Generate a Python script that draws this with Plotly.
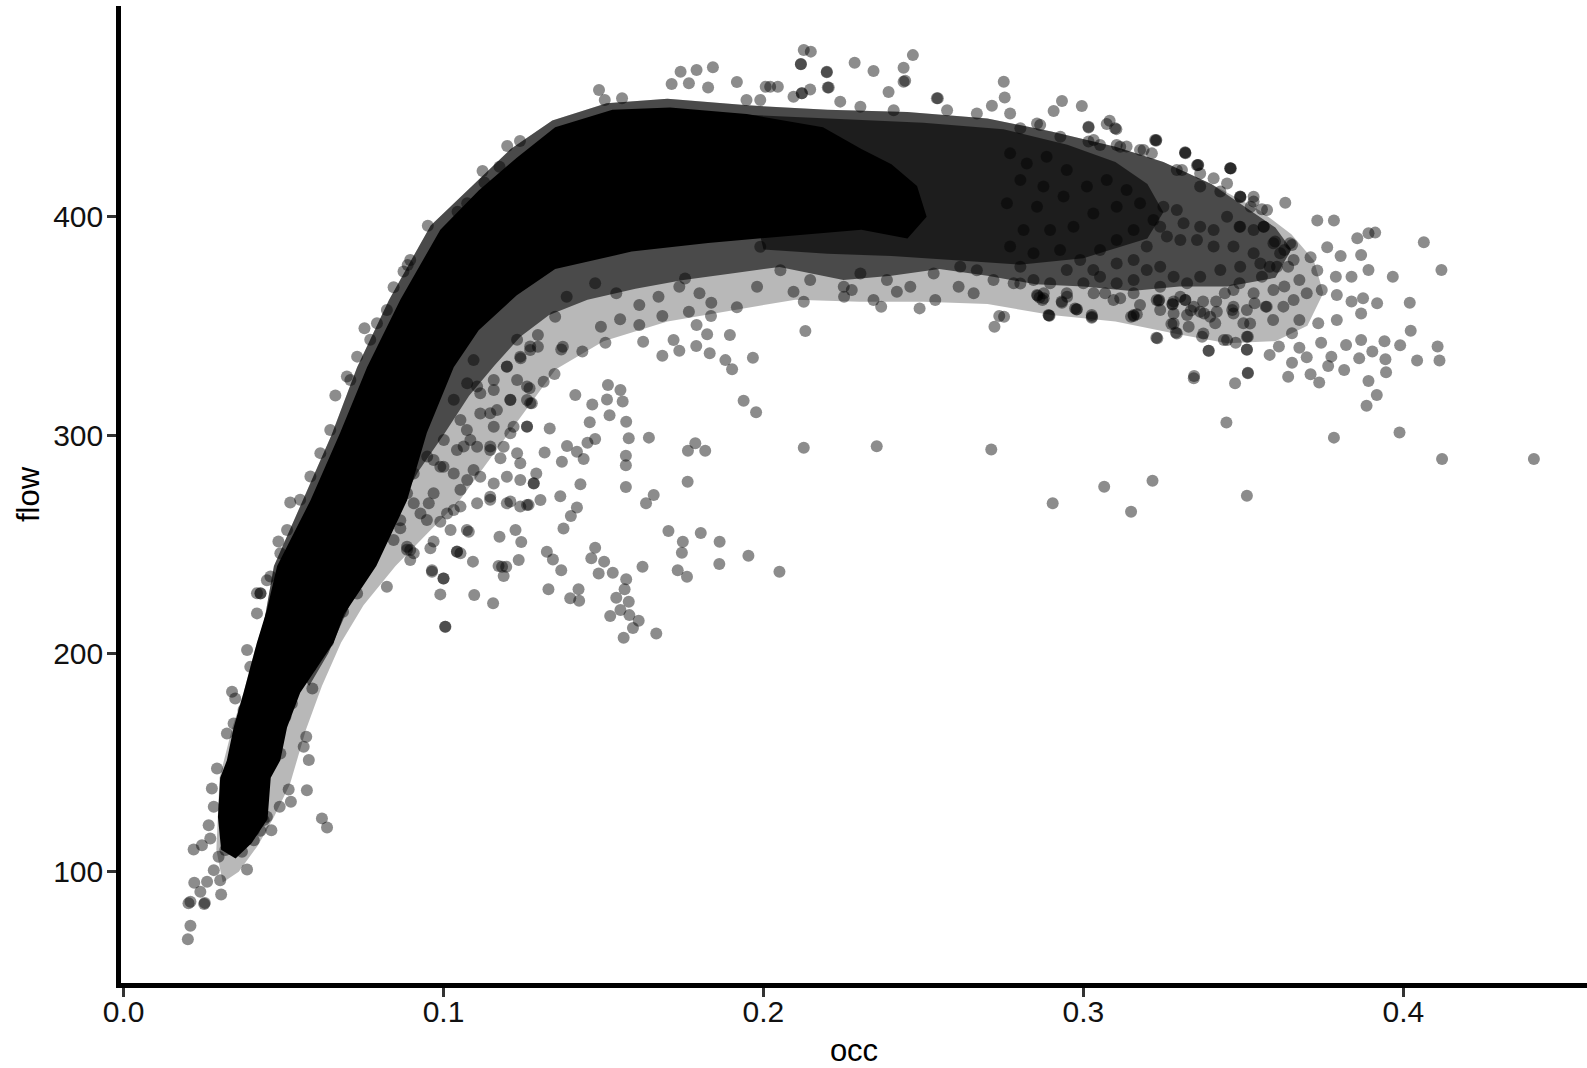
import plotly.graph_objects as go

# ---------------- data ----------------
# Dense, fully-saturated core of the cloud (outline of the solid black region)
core_occ = [0.0305, 0.0295, 0.0302, 0.0323, 0.0344, 0.0375, 0.0417, 0.0448, 0.0480, 0.0584,
            0.0677, 0.0761, 0.0865, 0.0990, 0.1110, 0.1229, 0.1349, 0.1528, 0.1708, 0.1947,
            0.2186, 0.2306, 0.2400, 0.2480, 0.2510,
            0.2450, 0.2306, 0.2066, 0.1827, 0.1588, 0.1349, 0.1229, 0.1110, 0.1032, 0.0948,
            0.0886, 0.0790, 0.0690, 0.0657, 0.0552, 0.0511, 0.0490, 0.0460, 0.0450, 0.0400, 0.0350]
core_flow = [110, 125, 143, 151, 166, 182, 205, 220, 240, 270,
             301, 331, 362, 394, 412, 427, 441, 449, 450, 447,
             441, 431, 424, 414, 400,
             390, 394, 391, 388, 384, 376, 364, 348, 331, 301,
             270, 240, 218, 205, 182, 166, 151, 143, 124, 113, 106]

# Lighter fringe below / right of the dense band (sporadic overlap of points)
env_occ = [0.044, 0.047, 0.056, 0.065, 0.073, 0.083, 0.096, 0.109, 0.121, 0.134,
           0.151, 0.170, 0.195, 0.220, 0.245, 0.270, 0.290, 0.310, 0.325, 0.340,
           0.355, 0.365, 0.372, 0.375,
           0.370, 0.360, 0.345, 0.330, 0.310, 0.290, 0.270, 0.250, 0.230, 0.210,
           0.190, 0.170, 0.150, 0.135, 0.125, 0.115, 0.105, 0.095, 0.085, 0.075,
           0.068, 0.062, 0.057, 0.052, 0.047, 0.042, 0.036, 0.031, 0.029, 0.030,
           0.034, 0.0375, 0.0417]
env_flow = [215, 240, 270, 300, 331, 362, 396, 414, 431, 444,
            452, 454, 451, 449, 448, 445, 439, 432, 425, 415,
            403, 392, 380, 365,
            350, 343, 342, 346, 352, 355, 360, 361, 361, 362,
            357, 352, 343, 330, 310, 290, 270, 255, 240, 222,
            205, 185, 165, 140, 125, 112, 100, 95, 110, 143,
            166, 182, 205]

# Heavily overplotted (dark, textured) band around the core
halo_occ = [0.044, 0.047, 0.056, 0.065, 0.073, 0.083, 0.096, 0.109, 0.121, 0.134,
            0.151, 0.170, 0.195, 0.220, 0.245, 0.270, 0.290, 0.310, 0.325, 0.340,
            0.350, 0.360, 0.365,
            0.360, 0.345, 0.330, 0.315, 0.300, 0.285, 0.270, 0.255, 0.240, 0.225,
            0.205, 0.190, 0.175, 0.160, 0.145, 0.133, 0.124, 0.116, 0.108, 0.100,
            0.092, 0.084, 0.077, 0.070, 0.064, 0.058]
halo_flow = [215, 240, 270, 300, 331, 362, 396, 414, 431, 444,
             452, 454, 451, 449, 448, 445, 439, 432, 425, 415,
             405, 395, 385,
             372, 368, 368, 366, 368, 369, 373, 376, 373, 371,
             377, 374, 371, 367, 362, 355, 345, 332, 318, 300,
             283, 262, 242, 220, 200, 185]

# Very dense plateau just right of the solid core
plateau_occ = [0.190, 0.220, 0.250, 0.275, 0.295, 0.310, 0.320, 0.325, 0.320, 0.300,
               0.280, 0.260, 0.240, 0.220, 0.200]
plateau_flow = [447, 445, 443, 440, 433, 425, 415, 402, 390, 381,
                378, 380, 382, 383, 385]

# Individual points: low-occupancy branch
occ_low = [0.1006, 0.0990, 0.0823, 0.0896, 0.1000, 0.0964, 0.0639, 0.0686, 0.0660, 0.0730,
           0.0590, 0.0579, 0.0571, 0.0563, 0.0573, 0.0516, 0.0523, 0.0488, 0.0620, 0.0636,
           0.0462, 0.0428, 0.0407, 0.0370, 0.0386, 0.0276, 0.0282, 0.0266, 0.0219, 0.0245,
           0.0271, 0.0339, 0.0349, 0.0292, 0.0282, 0.0297, 0.0261, 0.0221, 0.0240, 0.0209,
           0.0254, 0.0305, 0.0209, 0.0201, 0.0302, 0.0318, 0.0334, 0.0354, 0.0375, 0.0407,
           0.0438, 0.0448, 0.0412, 0.0365, 0.0407, 0.0344, 0.0323, 0.0375, 0.0396, 0.0386,
           0.0417, 0.0428, 0.0448, 0.0490, 0.0552, 0.0584, 0.0526, 0.0506, 0.0490,
           0.0951, 0.0844, 0.0888, 0.0753, 0.0771, 0.0662, 0.0709, 0.0521, 0.0484, 0.0428,
           0.0896, 0.0875, 0.0823, 0.0792, 0.0730, 0.0698, 0.0646, 0.0615, 0.0584, 0.0552,
           0.0511, 0.0490, 0.0459, 0.0417, 0.0203, 0.0252]
flow_low = [212.2, 227.0, 230.5, 242.7, 234.3, 237.4, 205.3, 219.0, 214.5, 227.4,
            183.9, 151.1, 161.8, 157.2, 137.3, 137.6, 132.0, 129.7, 124.4, 120.2,
            119.0, 118.7, 114.4, 109.1, 101.0, 138.1, 129.7, 121.3, 110.2, 112.1,
            115.2, 182.4, 179.3, 147.3, 100.7, 106.8, 95.4, 94.9, 90.8, 86.2,
            85.7, 89.5, 75.2, 69.0, 96.1, 109.9, 113.7, 116.0, 123.6, 119.0,
            123.6, 125.1, 130.5, 151.1, 160.2, 167.9, 163.3, 174.0, 193.8, 201.5,
            218.3, 227.4, 233.5, 206.1, 196.9, 193.8, 177.0, 170.9, 154.1,
            395.8, 367.7, 377.9, 348.9, 343.6, 318.1, 325.2, 269.1, 251.2, 227.5,
            380.2, 374.9, 357.3, 351.2, 335.9, 326.8, 302.3, 291.7, 281.0, 270.3,
            256.5, 245.8, 235.2, 227.5, 85.5, 85.2]

# Individual points: scatter below the bend (occ 0.08-0.22)
occ_mid = [0.1412, 0.1465, 0.1457, 0.1514, 0.1553, 0.1511, 0.1560, 0.1519, 0.1571, 0.1579,
           0.1642, 0.1474, 0.1450, 0.1386, 0.1417, 0.1438, 0.1370, 0.1570, 0.1570, 0.1428,
           0.1570, 0.1657, 0.1633, 0.1417, 0.1398, 0.1375, 0.1763, 0.1764, 0.1787, 0.1818,
           0.1938, 0.1977, 0.1967, 0.1902, 0.1881, 0.1832, 0.1790, 0.1737, 0.1684, 0.2126,
           0.1703, 0.1748, 0.1745, 0.1804, 0.1863, 0.1862, 0.1953, 0.2050, 0.1761, 0.1732,
           0.1622, 0.1571, 0.1566, 0.1540, 0.1579, 0.1553, 0.1521, 0.1581, 0.1610, 0.1592,
           0.1563, 0.1665, 0.1474, 0.1462, 0.1502, 0.1485, 0.1529, 0.1422, 0.1396, 0.1424,
           0.1368, 0.1328, 0.1323, 0.1342, 0.1235, 0.1243, 0.1225, 0.1175, 0.1196, 0.1172,
           0.1188, 0.1092, 0.1053, 0.1155, 0.1096, 0.1000, 0.0964, 0.1005, 0.1365, 0.1290,
           0.1276, 0.1269, 0.1313, 0.1347, 0.1332, 0.1316, 0.1434, 0.1506, 0.1368,
           0.0907, 0.0896, 0.0959, 0.1042, 0.1079, 0.1022, 0.0990, 0.0928, 0.0954, 0.1011,
           0.1053, 0.1105, 0.1146, 0.1198, 0.1240, 0.1261, 0.1303, 0.1282, 0.1240, 0.1198,
           0.1157, 0.1115, 0.1074, 0.1032, 0.0990, 0.1042, 0.1105, 0.1146, 0.1188, 0.1230,
           0.1261, 0.1219, 0.1157, 0.1084, 0.1115, 0.1167, 0.1209, 0.1261, 0.1230, 0.1198,
           0.1240, 0.1271, 0.1157, 0.1115, 0.1074, 0.1094, 0.1053, 0.1001, 0.0949, 0.0907,
           0.0886, 0.0865, 0.0844, 0.0886,
           0.1183, 0.1042, 0.1073, 0.0969, 0.0886, 0.0865, 0.1146, 0.1209, 0.1266, 0.1282,
           0.1240, 0.1178, 0.1094, 0.1053, 0.0969, 0.1000, 0.1063, 0.1146, 0.1209, 0.1261,
           0.1271, 0.1261, 0.1209, 0.1146, 0.1073, 0.1032, 0.1105, 0.1157, 0.1198, 0.1271,
           0.1230, 0.0948, 0.1032, 0.0907, 0.0969, 0.2354, 0.2712]
flow_mid = [318.3, 314.0, 305.8, 322.9, 320.6, 316.3, 315.3, 309.1, 306.1, 298.5,
            298.8, 298.2, 296.5, 295.0, 292.3, 289.0, 287.8, 290.5, 286.2, 277.4,
            276.2, 272.5, 268.7, 266.8, 262.9, 257.2, 278.6, 292.8, 296.2, 292.8,
            315.7, 310.4, 335.4, 330.1, 334.3, 337.4, 340.8, 338.6, 336.3, 294.2,
            256.0, 251.1, 246.1, 255.1, 251.1, 240.9, 244.7, 237.4, 235.1, 238.1,
            239.7, 233.9, 229.4, 225.5, 223.6, 219.8, 217.1, 217.5, 214.9, 211.6,
            207.1, 209.1, 248.4, 243.5, 242.0, 236.6, 236.9, 229.3, 225.2, 224.1,
            238.1, 229.4, 246.5, 243.0, 242.7, 251.0, 256.5, 253.4, 239.7, 240.0,
            235.4, 242.0, 245.8, 222.9, 226.7, 234.3, 238.1, 212.2, 272.0, 282.4,
            314.5, 321.4, 324.4, 327.9, 303.0, 292.0, 338.2, 342.3, 339.2,
            245.8, 247.3, 248.1, 246.5, 255.7, 256.5, 260.3, 264.1, 268.7, 264.1,
            267.2, 268.7, 271.7, 268.7, 267.2, 267.9, 270.2, 277.8, 279.4, 280.9,
            277.8, 280.9, 279.4, 282.4, 285.5, 293.1, 294.6, 293.1, 294.6, 291.6,
            303.8, 303.8, 303.8, 297.7, 309.9, 311.4, 316.0, 316.0, 325.2, 331.3,
            335.9, 338.9, 320.6, 319.1, 323.7, 334.3, 306.9, 297.7, 290.1, 282.4,
            273.3, 261.0, 251.9, 248.8,
            239.7, 246.6, 256.5, 251.2, 247.4, 257.3, 270.3, 269.5, 268.0, 277.9,
            287.1, 289.4, 284.0, 274.9, 273.3, 285.5, 294.7, 294.7, 300.8, 303.9,
            314.6, 322.2, 316.1, 310.0, 302.3, 316.1, 322.2, 325.2, 331.4, 340.5,
            343.6, 261.1, 265.7, 268.7, 288.6, 294.8, 293.4]

# Individual points: upper fringe of the cloud
occ_top = [0.1199, 0.1239, 0.1122, 0.1128, 0.1175, 0.1044, 0.1074, 0.1486, 0.1504, 0.1558,
           0.1741, 0.1791, 0.1842, 0.1713, 0.1767, 0.1827, 0.1917, 0.2007, 0.2045, 0.2117,
           0.2198, 0.2201, 0.2443, 0.2391, 0.2545, 0.1947, 0.2120,
           0.2126, 0.2148, 0.2117, 0.2198, 0.2285, 0.2344, 0.2438, 0.2467, 0.2438, 0.2204,
           0.2146, 0.2120, 0.2021, 0.2751, 0.2754, 0.2714, 0.2933, 0.2995, 0.2907, 0.3082,
           0.3103, 0.3016, 0.3228, 0.3318, 0.3461, 0.3490, 0.3355,
           0.1990, 0.2094, 0.2240, 0.2303, 0.2407, 0.2542, 0.2574, 0.2667, 0.2771, 0.2855,
           0.2928, 0.3032, 0.3115, 0.3188, 0.3292, 0.3365, 0.3449, 0.3532]
flow_top = [432.4, 434.7, 420.9, 415.6, 422.9, 402.3, 406.1, 458.0, 453.4, 454.2,
            466.4, 467.2, 468.4, 460.8, 461.1, 459.2, 461.7, 459.5, 459.5, 469.9,
            466.4, 459.2, 462.3, 457.1, 454.2, 453.4, 456.5,
            476.3, 475.6, 469.8, 466.1, 470.5, 466.7, 468.2, 474.0, 461.8, 459.2,
            458.3, 456.5, 459.5, 461.8, 454.6, 450.8, 453.0, 450.7, 448.4, 443.9,
            440.1, 440.9, 435.1, 429.3, 422.1, 409.1, 423.6,
            453.4, 454.9, 452.7, 450.4, 448.8, 454.2, 448.8, 447.3, 447.3, 442.7,
            436.6, 435.1, 432.0, 430.5, 421.4, 419.8, 415.2, 409.1]

# Individual points: lower fringe of the plateau (occ 0.12-0.36)
occ_band = [0.2252, 0.2276, 0.1980, 0.1917, 0.1837, 0.1836, 0.1800, 0.1767, 0.1895, 0.1791,
            0.1824, 0.1719, 0.1624, 0.1684, 0.1612, 0.1552, 0.1492, 0.1612, 0.1672, 0.1737,
            0.1755, 0.1540, 0.1474, 0.1385, 0.1349, 0.1295, 0.1373, 0.1295, 0.1241,
            0.2126, 0.2131, 0.2094, 0.2344, 0.2368, 0.2488, 0.2417, 0.2537, 0.2610, 0.2657,
            0.2737, 0.2722, 0.2894, 0.3027, 0.2978, 0.2863, 0.3157, 0.3228, 0.3235, 0.3279,
            0.3346, 0.3514, 0.3391, 0.3511, 0.3292, 0.3329, 0.3282, 0.3375, 0.3449, 0.3511,
            0.1990, 0.2053, 0.2146, 0.2251, 0.2303, 0.2386, 0.2459, 0.2532, 0.2615, 0.2667,
            0.2719, 0.2803, 0.2876, 0.2949, 0.3032, 0.3094, 0.3157, 0.3240, 0.3303, 0.3345,
            0.3396, 0.3469, 0.3521]
flow_band = [363.3, 366.4, 367.9, 358.5, 360.6, 354.5, 364.9, 356.5, 345.8, 350.4,
             346.1, 343.5, 342.7, 354.5, 350.4, 353.0, 349.6, 359.5, 363.3, 367.9,
             371.7, 364.9, 369.5, 363.3, 354.2, 345.8, 340.4, 340.4, 335.1,
             361.0, 347.6, 365.6, 361.8, 358.7, 358.0, 365.6, 361.8, 367.9, 364.9,
             354.5, 349.6, 354.6, 354.2, 357.5, 363.0, 354.5, 344.5, 361.5, 359.8,
             327.0, 328.5, 338.6, 339.2, 346.5, 349.6, 351.1, 346.5, 343.5, 345.0,
             386.2, 375.5, 371.0, 367.9, 374.0, 371.0, 367.9, 374.0, 377.1, 375.5,
             371.0, 369.4, 364.9, 363.3, 364.9, 361.8, 364.9, 367.9, 363.3, 358.7,
             354.2, 355.7, 351.1]

# Individual points: high-occupancy end of the cloud
occ_high = [0.3631, 0.3731, 0.3783, 0.3856, 0.3891, 0.3912, 0.4064, 0.4119, 0.3967, 0.3710,
            0.3762, 0.3804, 0.3868, 0.3891, 0.3838, 0.3789, 0.3731, 0.4020, 0.3918, 0.4023,
            0.4107, 0.4113, 0.4043, 0.3990, 0.3941, 0.3944, 0.3946, 0.3891, 0.3917, 0.3885,
            0.3815, 0.3765, 0.3743, 0.3821, 0.3868, 0.3903, 0.3862, 0.3737, 0.3710, 0.3775,
            0.3640, 0.3652, 0.3698, 0.3675, 0.3582, 0.3611, 0.3514, 0.3474, 0.3345, 0.3392,
            0.3439, 0.3476, 0.3511, 0.3514, 0.3447, 0.3783, 0.3988, 0.4121, 0.4408, 0.3065,
            0.3216, 0.2904, 0.3149, 0.3511, 0.3231, 0.3289, 0.3275, 0.3026, 0.2892, 0.3149,
            0.3167, 0.2752, 0.2933, 0.2980, 0.2857, 0.2872, 0.3237, 0.3278, 0.3336, 0.3319,
            0.3377, 0.3412, 0.3371, 0.3459, 0.3319, 0.3358, 0.3227, 0.3491, 0.3523, 0.3558,
            0.3564, 0.3488, 0.3652, 0.3628, 0.3599, 0.3582, 0.3640, 0.3675, 0.3628, 0.3698,
            0.3745, 0.3792, 0.3838, 0.3868, 0.3874, 0.3792, 0.3734, 0.3675, 0.3652, 0.3593,
            0.3570, 0.3535, 0.3500, 0.3465, 0.3442, 0.3488, 0.3558]
flow_high = [406.4, 398.2, 398.2, 390.1, 392.4, 392.7, 388.3, 375.6, 372.5, 381.4,
             386.0, 382.0, 382.5, 375.6, 372.5, 372.5, 375.3, 360.6, 360.3, 347.8,
             340.5, 334.1, 334.1, 341.1, 342.9, 334.7, 328.7, 324.7, 318.3, 313.4,
             329.8, 331.6, 342.3, 341.2, 343.5, 338.2, 335.1, 324.1, 327.8, 335.9,
             326.7, 333.1, 335.6, 340.0, 336.7, 340.5, 328.3, 323.7, 326.0, 338.6,
             343.5, 342.3, 339.0, 345.0, 305.7, 298.8, 301.1, 289.0, 289.0, 276.3,
             279.1, 268.7, 264.9, 272.2, 344.3, 346.9, 350.8, 353.7, 354.7, 354.2,
             355.3, 354.2, 360.6, 357.6, 363.8, 361.8, 361.8, 360.0, 357.0, 361.8,
             355.7, 351.2, 345.0, 422.2, 429.0, 423.7, 434.8, 408.9, 404.6, 403.4,
             395.4, 395.4, 387.0, 384.7, 388.6, 377.1, 377.1, 371.0, 368.0, 364.9,
             366.4, 364.1, 361.1, 355.7, 362.6, 352.7, 351.2, 352.7, 346.6, 352.7,
             358.8, 360.3, 351.2, 357.3, 364.9, 369.5, 372.5]

# Individual points: textured region occ 0.28-0.37
occ_tex = [0.2803, 0.2865, 0.3016, 0.3073, 0.3099, 0.3016, 0.3052, 0.3104, 0.3135, 0.3224,
           0.3177, 0.3214, 0.3318, 0.3359, 0.3459, 0.3308, 0.3407, 0.3365, 0.3428, 0.3490,
           0.3532, 0.3574, 0.3563, 0.3532, 0.3490, 0.3449, 0.3407, 0.3365, 0.3313, 0.3292,
           0.3250, 0.3219, 0.3261, 0.3303, 0.3355, 0.3407, 0.3469, 0.3532, 0.3594, 0.3646,
           0.3615, 0.3657, 0.3605, 0.3553, 0.3490, 0.3428, 0.3365, 0.3324, 0.3282, 0.3240,
           0.3198, 0.3157, 0.3104, 0.3052, 0.3000, 0.2948, 0.2896, 0.2844, 0.2782, 0.2855,
           0.2876, 0.2932, 0.2974, 0.3026, 0.3068, 0.3115, 0.3177, 0.3229, 0.3282, 0.3318,
           0.3374, 0.3415, 0.3469, 0.3532, 0.3594, 0.3625, 0.3657, 0.3573, 0.3511, 0.3469,
           0.3417, 0.3365, 0.3324, 0.3282, 0.3240, 0.3157, 0.2891,
           0.2771, 0.2823, 0.2885, 0.2948, 0.2875, 0.2803, 0.2761, 0.2855, 0.2938, 0.3011,
           0.3073, 0.3135, 0.3177, 0.3104, 0.3031, 0.2969, 0.2896, 0.2813, 0.2771, 0.2844,
           0.2927, 0.2990, 0.3052, 0.3104, 0.3157, 0.3198, 0.3240, 0.3157, 0.3104, 0.3031,
           0.2948, 0.2803]
flow_tex = [440.5, 442.0, 441.2, 442.5, 440.5, 434.4, 432.8, 432.8, 432.1, 435.1,
            430.6, 429.0, 429.5, 423.7, 422.2, 421.4, 417.6, 413.8, 411.5, 409.2,
            406.9, 403.1, 395.4, 393.9, 395.4, 400.0, 393.9, 395.4, 397.0, 403.1,
            404.6, 398.5, 390.9, 389.3, 389.3, 386.3, 386.3, 383.2, 387.8, 387.8,
            383.2, 380.2, 377.1, 378.6, 377.1, 375.6, 372.5, 369.5, 372.5, 377.1,
            375.6, 371.0, 369.5, 372.5, 369.5, 364.9, 369.5, 371.0, 369.5, 364.1,
            362.6, 361.1, 358.0, 355.0, 364.9, 362.6, 359.6, 361.8, 361.1, 361.8,
            361.1, 361.1, 366.4, 364.9, 366.4, 358.8, 361.8, 358.8, 357.3, 358.8,
            356.5, 356.5, 355.0, 355.7, 357.3, 355.0, 355.0,
            429.0, 424.4, 427.5, 421.4, 413.8, 416.8, 406.1, 404.6, 409.2, 413.8,
            416.8, 412.2, 406.1, 404.6, 401.5, 395.4, 393.9, 393.9, 386.3, 383.2,
            384.7, 380.2, 384.7, 389.3, 393.9, 386.3, 395.4, 380.2, 378.6, 375.6,
            375.6, 377.1]

x_ticks = [0.0, 0.1, 0.2, 0.3, 0.4]
x_tick_text = ["0.0", "0.1", "0.2", "0.3", "0.4"]
y_ticks = [100, 200, 300, 400]
y_tick_text = ["100", "200", "300", "400"]

# ---------------- figure ----------------
FONT = "Liberation Sans, Arial, Helvetica, sans-serif"
POINT_COLOR = "rgba(0,0,0,0.45)"

fig = go.Figure()

for xs, ys, fc in [(env_occ, env_flow, "rgba(0,0,0,0.28)"),
                   (halo_occ, halo_flow, "rgba(0,0,0,0.60)"),
                   (plateau_occ, plateau_flow, "rgba(0,0,0,0.60)"),
                   (core_occ, core_flow, "rgba(0,0,0,1)")]:
    fig.add_trace(go.Scatter(x=xs, y=ys, mode="lines", fill="toself",
                             fillcolor=fc, line=dict(width=0),
                             hoverinfo="skip", showlegend=False))

for xs, ys in [(occ_low, flow_low), (occ_mid, flow_mid), (occ_top, flow_top),
               (occ_band, flow_band), (occ_high, flow_high), (occ_tex, flow_tex)]:
    fig.add_trace(go.Scatter(x=xs, y=ys, mode="markers",
                             marker=dict(size=12, color=POINT_COLOR, line=dict(width=0)),
                             showlegend=False))

axis_common = dict(
    showgrid=False, zeroline=False, showline=True, linecolor="black", linewidth=4.5,
    ticks="outside", ticklen=9, tickwidth=2.5, tickcolor="#333333",
    tickfont=dict(family=FONT, size=30, color="#111111"),
    title_font=dict(family=FONT, size=31, color="black"),
    automargin=False,
)

fig.update_layout(
    width=1587, height=1068,
    margin=dict(l=121, r=0, t=6, b=85),
    paper_bgcolor="white", plot_bgcolor="white",
    showlegend=False,
    xaxis=dict(range=[-0.0008, 0.4574], tickvals=x_ticks, ticktext=x_tick_text,
               title=dict(text="occ", standoff=20), ticklabelstandoff=-11, **axis_common),
    yaxis=dict(range=[49.0, 496.5], tickvals=y_ticks, ticktext=y_tick_text,
               title=dict(text="flow", standoff=6), ticklabelstandoff=-2, **axis_common),
)

fig.write_html("out.html", config={"displayModeBar": False},
               post_script="document.body.style.margin='0';document.body.style.overflow='hidden';")
